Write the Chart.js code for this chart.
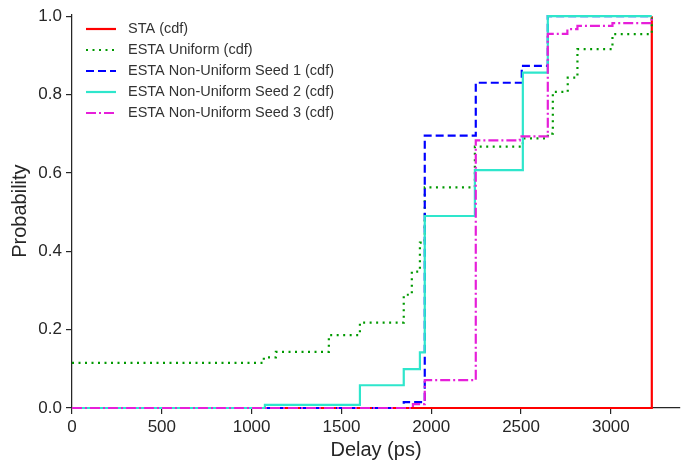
<!DOCTYPE html>
<html>
<head>
<meta charset="utf-8">
<script src="https://cdn.jsdelivr.net/npm/chart.js@4.4.1/dist/chart.umd.min.js"></script>
<style>
  body { margin: 0; background: #fff; }
  canvas { display: block; }
</style>
</head>
<body>
<canvas id="cdfChart" width="685" height="462"></canvas>
<script>
// series labels
var seriesNames = [
  "STA (cdf)",
  "ESTA Uniform (cdf)",
  "ESTA Non-Uniform Seed 1 (cdf)",
  "ESTA Non-Uniform Seed 2 (cdf)",
  "ESTA Non-Uniform Seed 3 (cdf)"
];

// step points: value holds from x[i] until x[i+1]
var staX = [0, 3228];
var staY = [0, 1.0];

var uniformX = [0, 1068, 1135, 1430, 1603, 1847, 1892, 1937, 1964, 2243, 2510, 2649, 2677, 2760, 2814, 3009, 3228];
var uniformY = [0.115, 0.129, 0.143, 0.186, 0.218, 0.289, 0.348, 0.422, 0.563, 0.667, 0.688, 0.70, 0.807, 0.843, 0.916, 0.954, 1.0];

var seed1X = [0, 1847, 1964, 2248, 2504, 2649, 3228];
var seed1Y = [0, 0.015, 0.695, 0.830, 0.873, 1.0, 1.0];

var seed2X = [0, 1074, 1603, 1847, 1937, 1964, 2243, 2510, 2649, 3228];
var seed2Y = [0, 0.008, 0.058, 0.099, 0.142, 0.490, 0.607, 0.856, 1.0, 1.0];

var seed3X = [0, 1898, 1964, 2248, 2493, 2649, 2758, 2814, 3009, 3228];
var seed3Y = [0, 0.010, 0.071, 0.683, 0.693, 0.955, 0.967, 0.975, 0.982, 1.0];

var xTicks = [0, 500, 1000, 1500, 2000, 2500, 3000];
var yTicks = [0.0, 0.2, 0.4, 0.6, 0.8, 1.0];

var colors = ["#ff0000", "#009900", "#0000ff", "#2ee6cc", "#e61fd9"];
var dashes = [[], [2, 4.5], [8, 4], [], [10, 3, 2, 3]];

function pts(xs, ys) {
  return xs.map(function (x, i) { return { x: x, y: ys[i] }; });
}

var allX = [staX, uniformX, seed1X, seed2X, seed3X];
var allY = [staY, uniformY, seed1Y, seed2Y, seed3Y];

var datasets = seriesNames.map(function (name, i) {
  return {
    label: name,
    data: pts(allX[i], allY[i]),
    borderColor: colors[i],
    backgroundColor: colors[i],
    borderWidth: 2.2,
    borderDash: dashes[i],
    stepped: 'before',
    pointRadius: 0,
    fill: false,
    clip: 4,
    order: 5 - i
  };
});

var textColor = "#262626";
var fontName = "'Liberation Sans', Arial, sans-serif";

// legend drawn inside the plot, like the original
var insideLegend = {
  id: 'insideLegend',
  afterDatasetsDraw: function (chart) {
    var c = chart.ctx;
    c.save();
    c.font = "14.5px " + fontName;
    c.textBaseline = 'middle';
    for (var i = 0; i < seriesNames.length; i++) {
      var y = 29 + i * 21;
      c.strokeStyle = colors[i];
      c.lineWidth = 2.2;
      c.setLineDash(dashes[i]);
      c.beginPath();
      c.moveTo(86, y);
      c.lineTo(116, y);
      c.stroke();
      c.setLineDash([]);
      c.fillStyle = "#333";
      c.fillText(seriesNames[i], 128, y);
    }
    c.restore();
  }
};

var ctx = document.getElementById("cdfChart").getContext('2d');
var cdfChart = new Chart(ctx, {
  type: 'line',
  data: { datasets: datasets },
  options: {
    responsive: false,
    animation: false,
    layout: { padding: { top: 12, right: 5, left: 0, bottom: 0 } },
    plugins: {
      legend: { display: false },
      tooltip: { enabled: false }
    },
    scales: {
      x: {
        type: 'linear',
        min: 0,
        max: 3385,
        afterFit: function (s) { s.height = 54; },
        afterBuildTicks: function (s) { s.ticks = xTicks.map(function (v) { return { value: v }; }); },
        ticks: {
          color: textColor,
          font: { family: fontName, size: 17 },
          padding: 3,
          maxRotation: 0,
          callback: function (v) { return String(v); }
        },
        grid: { display: true, drawOnChartArea: false, drawTicks: true, tickLength: 6, color: textColor, lineWidth: 1.2 },
        border: { display: true, color: textColor, width: 1.25 },
        title: { display: true, text: 'Delay (ps)', color: textColor, font: { family: fontName, size: 20 }, padding: { top: 0, bottom: 0 } }
      },
      y: {
        type: 'linear',
        min: 0,
        max: 1.005,
        afterFit: function (s) { s.width = 72; },
        afterBuildTicks: function (s) { s.ticks = yTicks.map(function (v) { return { value: v }; }); },
        ticks: {
          color: textColor,
          font: { family: fontName, size: 17 },
          padding: 4,
          callback: function (v) { return Number(v).toFixed(1); }
        },
        grid: { display: true, drawOnChartArea: false, drawTicks: true, tickLength: 6, color: textColor, lineWidth: 1.2 },
        border: { display: true, color: textColor, width: 1.25 },
        title: { display: true, text: 'Probability', color: textColor, font: { family: fontName, size: 20 }, padding: { top: 8, bottom: 0 } }
      }
    }
  },
  plugins: [insideLegend]
});
</script>
</body>
</html>
